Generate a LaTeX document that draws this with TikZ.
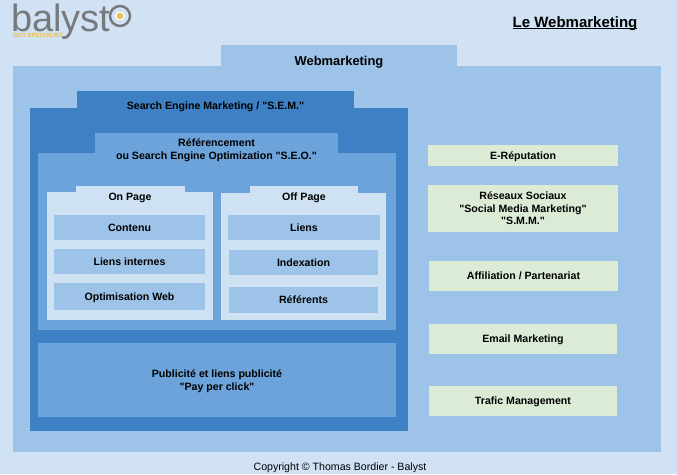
\documentclass[tikz,border=0pt]{standalone}
\usepackage{fontspec}
\setmainfont{Liberation Sans}
\usepackage{xcolor}
\usetikzlibrary{positioning}
\definecolor{pagebg}{HTML}{D0E2F4}
\definecolor{webblue}{HTML}{9DC3E8}
\definecolor{semblue}{HTML}{3D80C4}
\definecolor{seoblue}{HTML}{6CA3DA}
\definecolor{pageblue}{HTML}{CFE2F3}
\definecolor{itemgreen}{HTML}{DCEBD6}
\definecolor{logogray}{HTML}{77797C}
\definecolor{logoyellow}{HTML}{E9BE5A}
\newcommand{\Q}{\textquotedbl}
\tikzset{
  area/.style 2 args={inner sep=0pt,minimum width=#1pt,minimum height=#2pt,text=black,align=center,text depth=0pt,
    font=\fontsize{10.6}{12.5}\selectfont\bfseries},
  web/.style={fill=webblue},
  sem/.style={fill=semblue},
  seo/.style={fill=seoblue},
  onoff/.style={fill=pageblue},
  lever/.style={fill=itemgreen},
  tag/.style={inner sep=0pt,align=center,text=black,text depth=0pt,font=\fontsize{10.6}{12.5}\selectfont\bfseries}
}
\begin{document}
\begin{tikzpicture}[x=1pt,y=-1pt]
        \useasboundingbox[fill=pagebg] (0,0) rectangle (677,474);
        \node (WebTab) [area={236}{22},web] at (339,56) {};
        \node (Web) [area={648}{386},web] at (337,259) {};
        \node (WebLabel) [tag,font=\fontsize{12.9}{15}\selectfont\bfseries] at (339,60.5) {Webmarketing};
        \node (SemTab) [area={277}{18},sem] at (215.5,100) {};
        \node (Sem) [area={378}{323},sem] at (219,269.5) {};
        \node (SemLabel) [tag] at (215.5,105.5) {Search Engine Marketing / \Q S.E.M.\Q};
        \node (SeoTab) [area={243}{21},seo] at (216.5,143.5) {};
        \node (Seo) [area={358}{177},seo] at (217,241.5) {};
        \node (SeoLabel) [tag] at (216.5,149) {Référencement\\ou Search Engine Optimization \Q S.E.O.\Q};
        \node (OnTab) [area={109}{7},onoff] at (130.5,189.5) {};
        \node (On) [area={166}{128},onoff] at (130,256) {};
        \node (OnLabel) [tag] at (130,197) {On Page};
        \node (OffTab) [area={108}{8},onoff] at (304,190) {};
        \node (Off) [area={165}{127},onoff] at (303.5,256.5) {};
        \node (OffLabel) [tag] at (304,197) {Off Page};
        \node (Contenu) [area={151}{25},web] at (129.5,227.5) {Contenu};
        \node (Internes) [area={151}{25},web] at (129.5,261.5) {Liens internes};
        \node (Optim) [area={151}{27},web] at (129.5,296.5) {Optimisation Web};
        \node (Liens) [area={152}{25},web] at (304,227.5) {Liens};
        \node (Index) [area={149}{25},web] at (303.5,262.5) {Indexation};
        \node (Referents) [area={149}{26},web] at (303.5,300) {Référents};
        \node (Pub) [area={358}{74},seo] at (217,380) {Publicité et liens publicité\\\Q Pay per click\Q};
        \node (Reput) [area={190}{21},lever] at (523,155.5) {E-Réputation};
        \node (Reseaux) [area={190}{47},lever] at (523,208.5) {Réseaux Sociaux\\\Q Social Media Marketing\Q\\\Q S.M.M.\Q};
        \node (Affil) [area={189}{30},lever] at (523.5,276) {Affiliation / Partenariat};
        \node (Email) [area={188}{30},lever] at (523,339) {Email Marketing};
        \node (Trafic) [area={188}{30},lever] at (523,401) {Trafic Management};
        \node (Title) [tag,font=\fontsize{15}{17}\selectfont\bfseries] at (575,27) {\underline{\smash{Le Webmarketing}}};
        \node (Copy) [inner sep=0pt,text depth=0pt,font=\fontsize{10.6}{13}\selectfont] at (340,467) {Copyright © Thomas Bordier - Balyst};
        \node (Logo) [inner sep=0pt,anchor=base west,text depth=0pt,text=logogray,font=\fontsize{38}{40}\selectfont] at (11,31) {balyst};
        \node (Spec) [inner sep=0pt,anchor=base west,text=logoyellow,font=\fontsize{6}{7}\selectfont\bfseries] at (13,37.5) {SEO SPECIALIST};
        \node (Ring) [circle,inner sep=0pt,minimum size=20pt,draw=logogray,line width=2.5pt] at (120,16) {};
        \node (Eye) [circle,inner sep=0pt,minimum size=8pt,fill=logoyellow,draw=white,line width=1pt] at (Ring) {};
      \end{tikzpicture}
\end{document}
